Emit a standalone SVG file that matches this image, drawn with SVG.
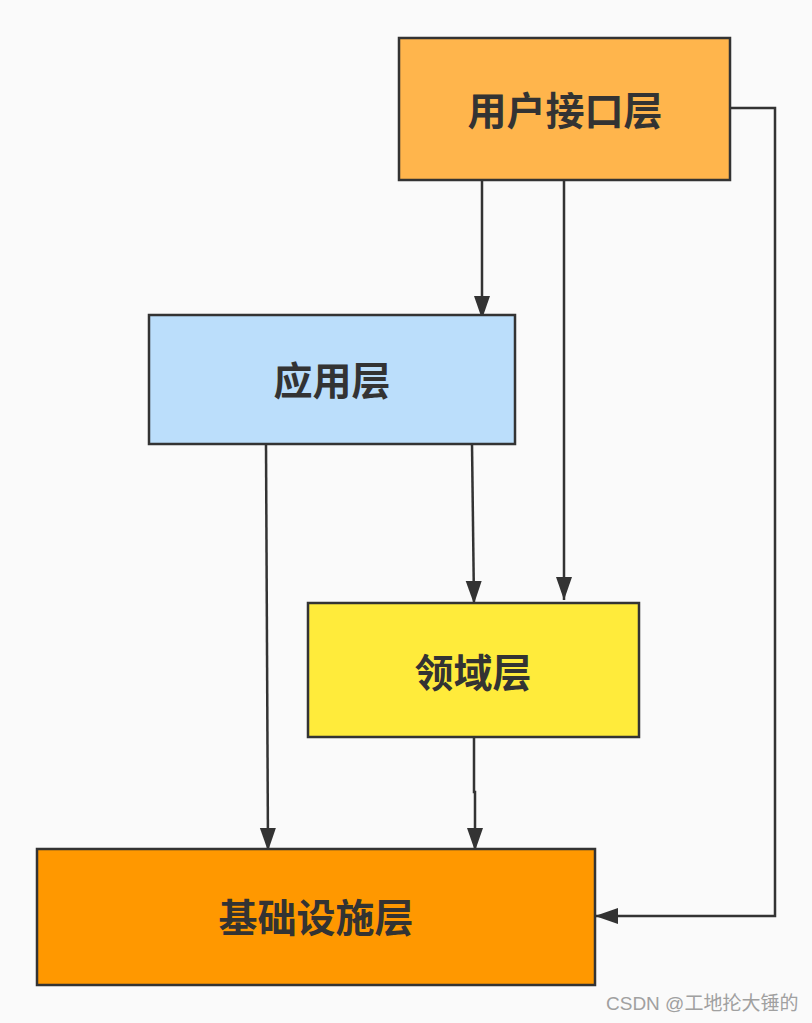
<svg xmlns="http://www.w3.org/2000/svg" width="812" height="1023" viewBox="0 0 812 1023">
<style>
.box{stroke:#333;stroke-width:2.5}
.lbl{font-family:"Noto Sans CJK SC","Noto Sans",sans-serif;font-weight:bold;font-size:39px;fill:#333;text-anchor:middle;dominant-baseline:central}
.edge{fill:none;stroke:#333;stroke-width:2.5}
.wm{font-family:"Liberation Sans","Noto Sans CJK SC",sans-serif;font-size:19px;fill:#a0a0a0}
</style>
<defs>
<marker id="arr" markerUnits="userSpaceOnUse" markerWidth="24" markerHeight="18" viewBox="0 0 24 18" refX="23" refY="9" orient="auto">
<path d="M0,1 L23,9 L0,17 Z" fill="#333"/>
</marker>
</defs>
<rect width="812" height="1023" fill="#fafafa"/>
<g id="edges">
<path class="edge" d="M482,180 L482,319" marker-end="url(#arr)"/>
<path class="edge" d="M564,180 L564,600" marker-end="url(#arr)"/>
<path class="edge" d="M730,108 L775,108 L775,916 L595,916" marker-end="url(#arr)"/>
<path class="edge" d="M266,444 L268,851" marker-end="url(#arr)"/>
<path class="edge" d="M472,444 L474,604" marker-end="url(#arr)"/>
<path class="edge" d="M474,737 L474,792 L475,792 L475,851" marker-end="url(#arr)"/>
</g>
<g id="node-ui">
<rect class="box" x="399" y="38" width="331" height="142" fill="#ffb54c"/>
<text class="lbl" x="565" y="108">用户接口层</text>
</g>
<g id="node-app">
<rect class="box" x="149" y="315" width="366" height="129" fill="#bbdefb"/>
<text class="lbl" x="332" y="378">应用层</text>
</g>
<g id="node-domain">
<rect class="box" x="308" y="603" width="331" height="134" fill="#ffeb3b"/>
<text class="lbl" x="473" y="670">领域层</text>
</g>
<g id="node-infra">
<rect class="box" x="37" y="849" width="558" height="136" fill="#ff9800"/>
<text class="lbl" x="316" y="915">基础设施层</text>
</g>
<text class="wm" x="606" y="1010">CSDN @工地抡大锤的</text>
</svg>
